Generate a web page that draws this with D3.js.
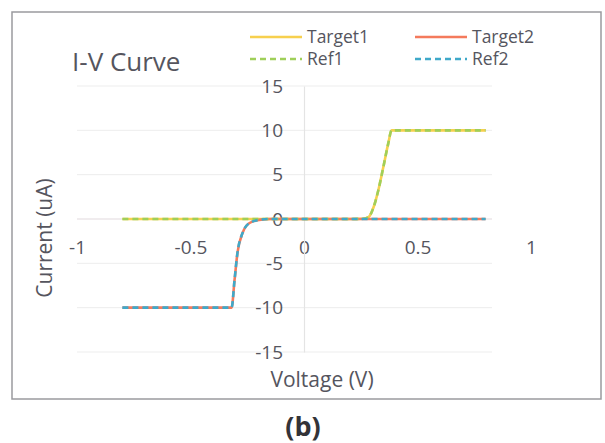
<!DOCTYPE html>
<html>
<head>
<meta charset="utf-8">
<script src="https://cdn.jsdelivr.net/npm/d3@7/dist/d3.min.js"></script>
<style>
  html, body { margin: 0; padding: 0; background: #fff; }
  svg { display: block; }
  text { font-family: "Open Sans", "Noto Sans", sans-serif; }
</style>
</head>
<body>
<svg id="chart" width="605" height="443"></svg>
<script>
// ---- data ----
const seriesNames = ["Target1", "Target2", "Ref1", "Ref2"];
const target1Voltage = [-0.8, -0.6, -0.4, -0.2, 0, 0.2, 0.26, 0.284, 0.306, 0.328, 0.349, 0.371, 0.386, 0.4, 0.6, 0.8];
const target1Current = [0, 0, 0, 0, 0, 0, 0.02, 0.2, 1.3, 3.3, 5.8, 8.5, 10, 10, 10, 10];
const target2Voltage = [-0.8, -0.6, -0.4, -0.319, -0.306, -0.293, -0.271, -0.24, -0.197, -0.15, 0, 0.2, 0.4, 0.6, 0.8];
const target2Current = [-10, -10, -10, -10, -6.9, -3.8, -1.6, -0.45, -0.1, 0, 0, 0, 0, 0, 0];
const ref1Voltage = [-0.8, -0.6, -0.4, -0.2, 0, 0.2, 0.26, 0.284, 0.306, 0.328, 0.349, 0.371, 0.386, 0.4, 0.6, 0.8];
const ref1Current = [0, 0, 0, 0, 0, 0, 0.02, 0.2, 1.3, 3.3, 5.8, 8.5, 10, 10, 10, 10];
const ref2Voltage = [-0.8, -0.6, -0.4, -0.319, -0.306, -0.293, -0.271, -0.24, -0.197, -0.15, 0, 0.2, 0.4, 0.6, 0.8];
const ref2Current = [-10, -10, -10, -10, -6.9, -3.8, -1.6, -0.45, -0.1, 0, 0, 0, 0, 0, 0];
const xTickValues = [-1, -0.5, 0, 0.5, 1];
const xTickLabels = ["-1", "-0.5", "0", "0.5", "1"];
const yTickValues = [-15, -10, -5, 0, 5, 10, 15];
const yTickLabels = ["-15", "-10", "-5", "0", "5", "10", "15"];

// ---- styles ----
const styles = {
  Target1: { color: "#f7d04e", dash: null, width: 2.6 },
  Target2: { color: "#f47a5c", dash: null, width: 2.6 },
  Ref1:    { color: "#9fcf5a", dash: "6,4", width: 2.6 },
  Ref2:    { color: "#3fa9c9", dash: "6,4", width: 2.6 }
};
const textColor = "#55555e";

const svg = d3.select("#chart");

const x = d3.scaleLinear().domain([-1, 1]).range([77, 531]);
const y = d3.scaleLinear().domain([-15, 15]).range([352, 86]);
const gridRight = 492;

// outer border
svg.append("rect").attr("x", 12).attr("y", 12).attr("width", 589).attr("height", 387)
  .attr("fill", "#fff").attr("stroke", "#9a9a9e").attr("stroke-width", 1.5);

// horizontal gridlines
svg.append("g").selectAll("line").data(yTickValues.filter(v => v !== 0)).join("line")
  .attr("x1", x(-1)).attr("x2", gridRight)
  .attr("y1", d => y(d)).attr("y2", d => y(d))
  .attr("stroke", "#ededed").attr("stroke-width", 1);

// axes via d3 axis generators
const xAxis = d3.axisBottom(x).tickValues(xTickValues).tickFormat((d, i) => xTickLabels[i]).tickSize(0).tickPadding(24);
const gx = svg.append("g").attr("transform", `translate(0,${y(0)})`).call(xAxis);
gx.select(".domain").attr("stroke", "#e2dadd").attr("stroke-width", 1.2).attr("d", `M${x(-1)},0H${gridRight}`);
gx.selectAll("text").attr("fill", textColor).style("font-size", "19px").attr("dy", "0.6em");

const yAxis = d3.axisLeft(y).tickValues(yTickValues).tickFormat((d, i) => yTickLabels[i]).tickSize(0).tickPadding(21);
const gy = svg.append("g").attr("transform", `translate(${x(0)},0)`).call(yAxis);
gy.select(".domain").attr("stroke", "#e4e4e4").attr("stroke-width", 1.2);
gy.selectAll("text").attr("fill", textColor).style("font-size", "19px");

// lines
const line = d3.line().x(d => x(d[0])).y(d => y(d[1])).curve(d3.curveMonotoneX);
const seriesData = {
  Target1: d3.zip(target1Voltage, target1Current),
  Target2: d3.zip(target2Voltage, target2Current),
  Ref1: d3.zip(ref1Voltage, ref1Current),
  Ref2: d3.zip(ref2Voltage, ref2Current)
};
seriesNames.forEach(name => {
  const s = styles[name];
  svg.append("path").datum(seriesData[name])
    .attr("d", line).attr("fill", "none")
    .attr("stroke", s.color).attr("stroke-width", s.width)
    .attr("stroke-dasharray", s.dash);
});

// title
svg.append("text").attr("x", 72).attr("y", 71).text("I-V Curve")
  .attr("fill", textColor).style("font-size", "26px");

// legend
const legendPos = {
  Target1: [250, 37], Target2: [415, 37],
  Ref1: [250, 59], Ref2: [415, 59]
};
seriesNames.forEach(name => {
  const [lx, ly] = legendPos[name];
  const s = styles[name];
  svg.append("line").attr("x1", lx).attr("x2", lx + 52).attr("y1", ly).attr("y2", ly)
    .attr("stroke", s.color).attr("stroke-width", s.width).attr("stroke-dasharray", s.dash);
  svg.append("text").attr("x", lx + 57).attr("y", ly).attr("dy", "0.35em").text(name)
    .attr("fill", textColor).style("font-size", "17.5px");
});

// axis titles
svg.append("text").attr("x", 322).attr("y", 380).attr("dy", "0.35em").attr("text-anchor", "middle")
  .text("Voltage (V)").attr("fill", textColor).style("font-size", "21px");
svg.append("text").attr("transform", "translate(45,238) rotate(-90)").attr("dy", "0.35em")
  .attr("text-anchor", "middle").text("Current (uA)").attr("fill", textColor).style("font-size", "21px");

// caption
svg.append("text").attr("x", 303).attr("y", 427).attr("dy", "0.35em").attr("text-anchor", "middle")
  .text("(b)").attr("fill", "#333338").style("font-size", "27px").style("font-weight", "bold");
</script>
</body>
</html>
